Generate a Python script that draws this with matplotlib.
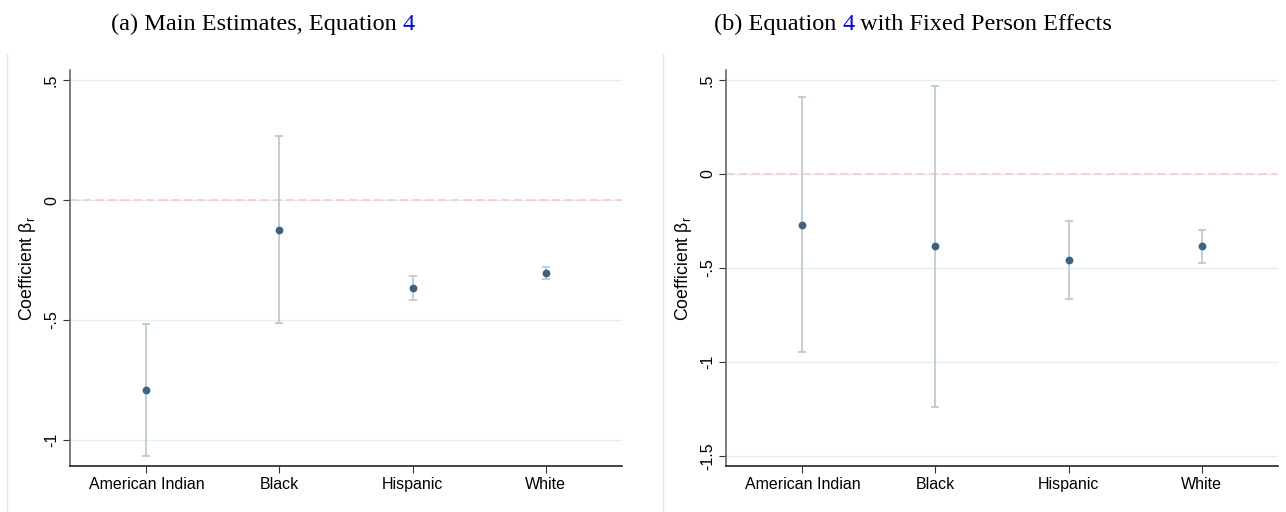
import numpy as np
import matplotlib
matplotlib.use("Agg")
import matplotlib.pyplot as plt
from matplotlib.lines import Line2D

groups = ["American Indian", "Black", "Hispanic", "White"]

# panel (a): main estimates
est_a = [-0.792, -0.125, -0.365, -0.303]
lo_a = [-1.067, -0.513, -0.417, -0.328]
hi_a = [-0.517, 0.267, -0.315, -0.278]

# panel (b): with fixed person effects
est_b = [-0.270, -0.383, -0.456, -0.385]
lo_b = [-0.945, -1.238, -0.663, -0.473]
hi_b = [0.408, 0.470, -0.248, -0.296]

yticks_a = [0.5, 0, -0.5, -1]
ylabels_a = [".5", "0", "-.5", "-1"]
yticks_b = [0.5, 0, -0.5, -1, -1.5]
ylabels_b = [".5", "0", "-.5", "-1", "-1.5"]

W, H = 1286, 512
fig = plt.figure(figsize=(W / 100, H / 100), dpi=100)
plt.rcParams['font.family'] = ['Liberation Sans', 'DejaVu Sans']

pt_col = "#3d6281"
bar_col = "#bccad5"
grid_col = "#e6edf1"


def draw_panel(rect, est, lo, hi, yticks, ylabels, ylim):
    ax = fig.add_axes(rect)
    x = np.arange(len(groups))
    est = np.array(est)
    yerr = [est - np.array(lo), np.array(hi) - est]
    for t in yticks:
        ax.axhline(t, color=grid_col, lw=1.0, zorder=0)
    ax.axhline(0, color="#fbc6c2", lw=1.1, ls=(0, (5.5, 2.8)), zorder=1)
    ax.errorbar(x, est, yerr=yerr, fmt="none", ecolor=bar_col, elinewidth=1.3,
                capsize=3.2, capthick=1.3, zorder=2)
    ax.plot(x, est, "o", color=pt_col, ms=4.6, zorder=3)
    ax.set_xlim(-0.575, 3.575)
    ax.set_ylim(*ylim)
    ax.set_xticks(x)
    ax.set_xticklabels(groups, fontsize=11.5)
    ax.set_yticks(yticks)
    ax.set_yticklabels(ylabels, fontsize=11.5, rotation=90, va="center")
    ax.tick_params(axis="both", length=5, width=0.8, color="#333333", pad=3)
    for s in ["top", "right"]:
        ax.spines[s].set_visible(False)
    ax.spines["left"].set_color("#666666")
    ax.spines["left"].set_linewidth(1.2)
    ax.spines["bottom"].set_color("#222222")
    ax.spines["bottom"].set_linewidth(1.2)
    ax.set_ylabel("Coefficient β$_\\mathregular{r}$", fontsize=12.8, labelpad=4)
    return ax


ax_a = draw_panel([70 / W, 46 / H, 552 / W, 396 / H], est_a, lo_a, hi_a,
                  yticks_a, ylabels_a, (-1.108, 0.542))
ax_b = draw_panel([726 / W, 46 / H, 552 / W, 396 / H], est_b, lo_b, hi_b,
                  yticks_b, ylabels_b, (-1.553, 0.553))

# faint graph-region edges
for xp in [7, 663]:
    fig.add_artist(Line2D([xp / W, xp / W], [0, 1 - 54 / H], color="#e6e6e6", lw=1.0))

# titles: black text with a blue equation number
fig.canvas.draw()
renderer = fig.canvas.get_renderer()


def title(center_px, parts):
    kw = dict(fontsize=17.5, family=["Liberation Serif", "DejaVu Serif"], va="baseline")
    texts = [fig.text(0, 1 - 30 / H, s, color=c, **kw) for s, c in parts]
    widths = [t.get_window_extent(renderer).width for t in texts]
    x = center_px - sum(widths) / 2
    for t, w in zip(texts, widths):
        t.set_x(x / W)
        x += w


title(263, [("(a) Main Estimates, Equation ", "black"), ("4", "#0000ff")])
title(913, [("(b) Equation ", "black"), ("4", "#0000ff"), (" with Fixed Person Effects", "black")])

fig.savefig("out.png", dpi=100)
